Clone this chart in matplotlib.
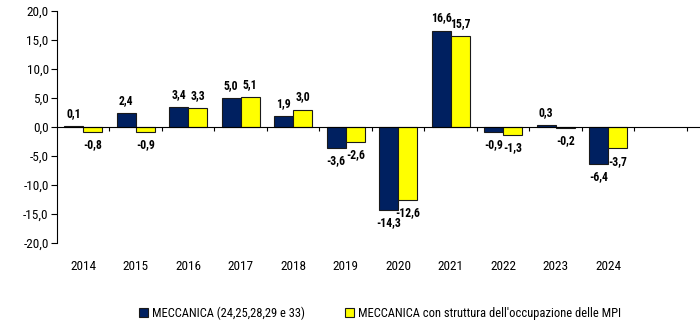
import numpy as np
import matplotlib
matplotlib.use("Agg")
import matplotlib.pyplot as plt

plt.rcParams['font.family'] = ['Roboto Condensed', 'Liberation Sans', 'DejaVu Sans']

# dati: variazioni percentuali annue
anni = ['2014', '2015', '2016', '2017', '2018', '2019', '2020', '2021', '2022', '2023', '2024']
meccanica = [0.1, 2.4, 3.4, 5.0, 1.9, -3.6, -14.3, 16.6, -0.9, 0.3, -6.4]
meccanica_mpi = [-0.8, -0.9, 3.3, 5.1, 3.0, -2.6, -12.6, 15.7, -1.3, -0.2, -3.7]
nomi_serie = ['MECCANICA (24,25,28,29 e 33)', "MECCANICA con struttura dell'occupazione delle MPI"]
colori = ['#002060', '#FFFF00']

fig = plt.figure(figsize=(7.0, 3.23), dpi=100)
ax = fig.add_axes([57 / 700, 80 / 323, 643 / 700, 232 / 323])

x = np.arange(len(anni))
w = 0.362
b1 = ax.bar(x - w / 2, meccanica, w, color=colori[0], edgecolor='#1a1a1a', linewidth=0.8, label=nomi_serie[0])
b2 = ax.bar(x + w / 2, meccanica_mpi, w, color=colori[1], edgecolor='#1a1a1a', linewidth=0.8, label=nomi_serie[1])

def fmt(v):
    return f'{v:.1f}'.replace('.', ',')

for bars, vals in ((b1, meccanica), (b2, meccanica_mpi)):
    for r, v in zip(bars, vals):
        cx = r.get_x() + r.get_width() / 2
        if v >= 0:
            ax.annotate(fmt(v), (cx, v), xytext=(0, 4.5), textcoords='offset points',
                        ha='center', va='bottom', fontsize=8.5, fontweight='bold')
        else:
            ax.annotate(fmt(v), (cx, v), xytext=(0, -4.5), textcoords='offset points',
                        ha='center', va='top', fontsize=8.5, fontweight='bold')

ax.set_ylim(-20, 20)
ax.set_xlim(-0.5, 11.75)
ax.set_yticks(np.arange(-20, 20.1, 5))
ax.set_yticklabels([fmt(v) for v in np.arange(-20, 20.1, 5)], fontsize=9.5)
ax.tick_params(axis='y', length=4, width=0.8, pad=2)

# asse x sullo zero, tacche tra le categorie
ax.spines['bottom'].set_position(('data', 0))
ax.spines['top'].set_visible(False)
ax.spines['right'].set_visible(False)
ax.set_xticks(np.arange(0.5, 12, 1))
ax.set_xticklabels([])
ax.tick_params(axis='x', length=3, width=0.8, direction='out')

# etichette degli anni sotto l'area del grafico
for i, a in enumerate(anni):
    ax.annotate(a, (i, -20), xytext=(0, -17), textcoords='offset points',
                ha='center', va='center', fontsize=9.5, annotation_clip=False)

fig.legend(handles=[b1, b2], loc='center', bbox_to_anchor=(0.543, 0.031), ncol=2,
           frameon=False, fontsize=9, handlelength=0.7, handleheight=0.7,
           handletextpad=0.35, columnspacing=3.2)

fig.savefig('out.png', dpi=100)
